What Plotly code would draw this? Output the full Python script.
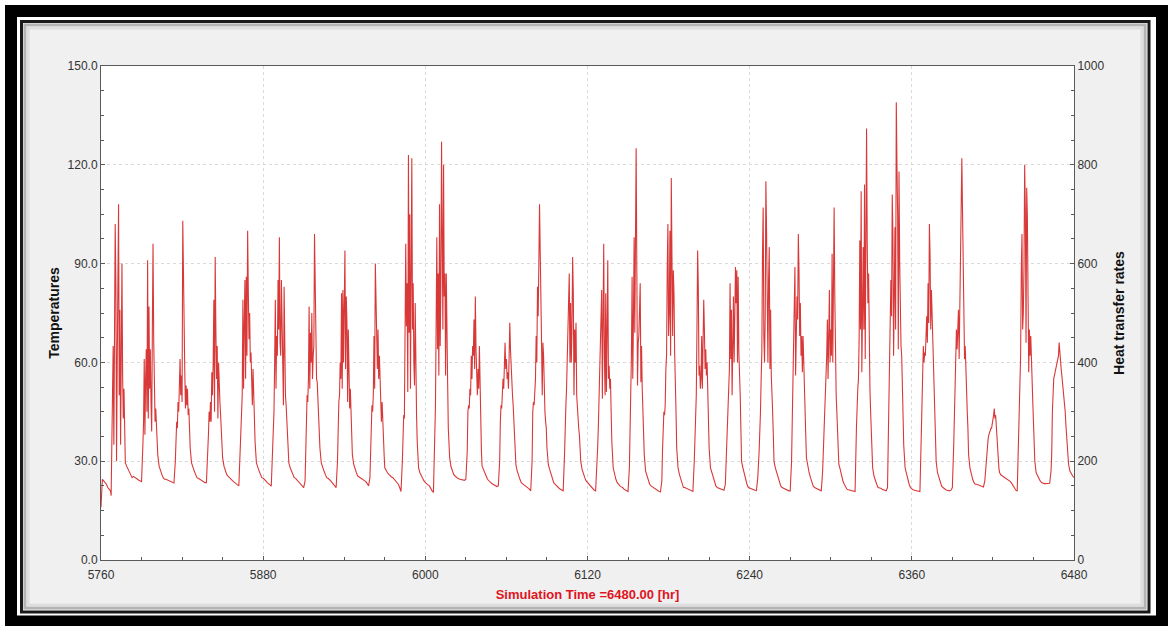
import plotly.graph_objects as go

# ---------------- data ----------------
START_HOUR = 5760
DAY_LENGTH = 24
# hour-of-day sample points shared by every day
HOURS = [0, 1, 2, 3, 4, 5, 6, 7,
         7.5, 8, 8.5, 9, 9.5, 10, 10.5, 11, 11.5, 12, 12.5, 13, 13.5, 14,
         14.5, 15, 15.5, 16, 16.5, 17, 17.5, 18,
         19, 20, 21, 22, 23]

# temperature readings per day (one list per simulated day)
DAY_VALUES = [
    [16, 24.5, 24, 23.5, 23, 22, 21.5, 21, 19.5, 38, 54, 65, 35, 70, 102, 84, 30, 60, 88, 108, 50, 76, 35, 60, 90, 56, 43, 52, 40, 29.5, 28.5, 27.5, 26.5, 25.5, 25],
    [25.4, 25, 24.8, 24.5, 24.2, 24, 23.8, 35, 42, 61, 38, 55, 64, 45, 91, 43, 77, 52, 64, 48, 39, 70, 96, 67, 54, 42, 46, 40, 38, 32, 28.5, 27, 26, 25, 24.5],
    [24.5, 24.3, 24, 23.8, 23.6, 23.5, 23.4, 30, 38, 42, 40, 48, 45, 55, 61, 50, 56, 48, 103, 88, 63, 57, 46, 53, 47, 52, 44, 46, 40, 34, 29.5, 28, 27, 26, 25],
    [24.8, 24.5, 24.3, 24, 23.8, 23.5, 23.5, 31, 38, 45, 42, 48, 42, 57, 50, 60, 79, 45, 92, 70, 55, 65, 43, 60, 50, 48, 44, 40, 35, 31, 28.5, 27, 26, 25.5, 25],
    [24.5, 24, 23.8, 23.5, 23, 22.8, 22.5, 35, 42, 45, 50, 79, 52, 72, 85, 55, 86, 62, 100, 82, 67, 75, 60, 63, 52, 47, 58, 48, 44, 36, 29.5, 28, 27, 26, 25],
    [24.8, 24.5, 24, 23.5, 23, 22.8, 22.4, 33, 42, 45, 60, 79, 52, 68, 62, 85, 70, 98, 66, 62, 85, 74, 55, 47, 83, 58, 50, 47, 42, 35, 29.5, 28, 27, 26, 25],
    [24.8, 24.3, 24, 23.5, 23, 22.5, 22, 24, 33, 45, 50, 48, 55, 77, 52, 69, 60, 75, 55, 62, 65, 99, 86, 62, 55, 54, 48, 46, 40, 34, 29.5, 28, 27, 26, 25],
    [24.8, 24.5, 24, 23.5, 23, 22.5, 22, 30, 42, 48, 50, 60, 55, 81, 52, 82, 60, 72, 94, 58, 80, 72, 48, 70, 60, 46, 52, 42, 36, 32, 29, 27.5, 26.5, 25.5, 25.2],
    [25, 24.8, 24.5, 24.2, 23.8, 23.2, 22.5, 25, 35, 46, 47, 45, 50, 68, 52, 90, 80, 70, 58, 70, 55, 62, 53, 52, 42, 48, 40, 36, 32, 28, 27, 26.5, 26, 25.5, 25.2],
    [25, 24.5, 24, 23.5, 23, 22, 20.8, 30, 43.5, 44, 43, 60, 96, 71, 84, 51, 123, 69, 105, 52, 104, 122, 70, 84, 60, 53, 78, 52, 44, 36, 28, 26.5, 25.5, 24.5, 24],
    [23.5, 23, 22.8, 22.5, 21.5, 21, 20.5, 35, 47, 72, 98, 64, 87, 56, 108, 65, 83, 127, 104, 70, 120, 80, 87, 56, 87, 58, 54, 40, 35, 31, 28.3, 27, 26, 25.5, 25],
    [24.8, 24.6, 24.5, 24.4, 24.3, 24.2, 24.5, 33, 45, 47, 46, 52, 50, 62, 55, 65, 62, 73, 58, 80, 64, 53, 50, 58, 52, 65, 50, 42, 33, 28.5, 27.3, 26.5, 25.5, 24.5, 24],
    [23.5, 23.3, 23, 22.8, 22.5, 22.3, 22.5, 30, 42, 47, 46, 50, 55, 52, 60, 66, 58, 61, 55, 57, 52, 62, 72, 64, 58, 53, 50, 47, 42, 38, 29, 27, 25.5, 24.5, 23.5],
    [23, 22.8, 22.5, 22.2, 22, 21.5, 21, 30, 45, 48, 47, 50, 55, 68, 60, 83, 74, 90, 108, 94, 70, 66, 50, 66, 62, 50, 45, 42, 40, 34, 29, 27.5, 26, 24.5, 23.5],
    [23, 22.5, 22, 21.8, 21.5, 21.2, 21, 32, 45, 47, 52, 62, 75, 80, 87, 60, 78, 60, 70, 92, 81, 50, 70, 60, 72, 50, 45, 42, 40, 38, 30, 27.5, 26, 25, 24],
    [23.5, 23, 22.5, 22, 21.5, 21.2, 21, 28, 34, 40, 48, 53, 62, 73, 82, 49, 85, 96, 62, 50, 81, 51, 70, 91, 55, 59, 52, 55, 45, 36, 28, 26, 24.5, 23.5, 22.8],
    [22.5, 22.2, 22, 21.5, 21.2, 21, 20.8, 28, 37, 50, 62, 86, 55, 73, 98, 69, 105, 125, 88, 53, 66, 68, 76, 84, 54, 65, 52, 46, 38, 32, 27, 25.5, 24, 23, 22.5],
    [22.2, 22, 21.5, 21.2, 21, 20.8, 20.7, 24, 33, 40, 45, 44, 47, 58, 62, 88, 102, 68, 75, 100, 62, 116, 98, 68, 88, 81, 63, 56, 45, 34, 28, 26, 24.5, 23, 22],
    [22, 21.8, 21.5, 21.3, 21, 20.9, 20.8, 30, 37, 45, 50, 70, 94, 83, 56, 59, 52, 55, 68, 52, 72, 79, 70, 58, 64, 56, 60, 48, 42, 34, 28, 26.5, 25, 23.5, 22.5],
    [22, 21.8, 21.6, 21.4, 21.3, 21.2, 23, 33, 40, 45, 52, 58, 84, 61, 76, 50, 65, 80, 60, 83, 89, 78, 88, 60, 86, 63, 58, 50, 40, 30, 28, 26, 24.5, 23, 22],
    [21.8, 21.6, 21.4, 21.3, 21.2, 21.1, 25, 33, 38, 45, 55, 63, 93, 107, 68, 60, 74, 115, 100, 68, 60, 85, 95, 58, 76, 56, 52, 45, 38, 30, 28, 26.5, 25, 23.5, 22.5],
    [22, 21.8, 21.5, 21.3, 21.1, 21, 21, 30, 42, 55, 68, 80, 89, 56, 68, 80, 73, 99, 88, 68, 78, 62, 68, 57, 68, 58, 52, 45, 38, 31, 28, 26.5, 25, 23.5, 22.5],
    [22, 21.8, 21.5, 21.3, 21.1, 21, 27, 37, 42, 48, 55, 62, 73, 55, 68, 82, 60, 70, 62, 93, 60, 94, 107, 80, 55, 50, 45, 40, 33, 29, 27.5, 25.5, 24, 23, 22],
    [21.5, 21.3, 21.2, 21.1, 21, 20.9, 20.8, 40, 50, 52, 55, 67, 97, 70, 112, 57, 75, 95, 70, 114, 61, 90, 131, 96, 78, 87, 62, 52, 45, 38, 28, 25.5, 24, 23, 22],
    [22, 21.8, 21.5, 21.3, 21.1, 21, 22, 45, 55, 70, 85, 74, 111, 99, 62, 80, 101, 70, 139, 120, 105, 64, 118, 91, 75, 65, 62, 50, 42, 35, 28, 26, 24.5, 23, 22],
    [21.5, 21.3, 21.2, 21.1, 21, 20.9, 20.8, 38, 46, 50, 65, 60, 63, 62, 72, 74, 66, 84, 72, 102, 92, 70, 82, 75, 70, 66, 55, 45, 38, 30, 26.5, 25, 23.5, 22.5, 22],
    [21.6, 21.4, 21.2, 21, 21, 21.2, 22, 35, 45, 50, 60, 70, 64, 72, 76, 61, 80, 88, 107, 122, 106, 88, 72, 61, 65, 55, 50, 45, 40, 32, 28, 26, 24.5, 23.5, 23],
    [23, 22.8, 22.6, 22.4, 22.3, 22.2, 24, 30, 34, 36, 37, 38, 39, 39.5, 40, 40, 41, 43, 44, 46, 43, 44, 41, 37, 33, 29, 27.5, 26.5, 26, 25.8, 25.5, 25.2, 25, 24.8, 24.5],
    [24.2, 23.8, 23.2, 22.5, 22, 21.2, 21, 40, 45, 50, 62, 88, 99, 70, 75, 89, 120, 106, 66, 113, 104, 80, 57, 70, 62, 68, 58, 55, 48, 42, 30, 26.5, 25.5, 24.5, 24],
    [23.5, 23.3, 23.2, 23.2, 23.3, 23.3, 23.3, 27, 32, 45, 53, 55, 56, 57, 57.5, 58, 60, 61, 62, 66, 62, 60, 58, 56, 54, 53, 51, 49, 45, 41, 33, 29, 27, 26, 25.5],
]
END_TIME = 6480
END_VALUE = 25

X_TICKS = [5760, 5880, 6000, 6120, 6240, 6360, 6480]
Y_TICKS = [0, 30, 60, 90, 120, 150]
Y2_TICKS = [0, 200, 400, 600, 800, 1000]

# ---------------- build series ----------------
times, temps = [], []
for d, vals in enumerate(DAY_VALUES):
    for h, v in zip(HOURS, vals):
        times.append(START_HOUR + d * DAY_LENGTH + h)
        temps.append(v)
times.append(END_TIME)
temps.append(END_VALUE)

W, H = 1169, 626
L, R, T, B = 101, 95, 66, 66
PW, PH = W - L - R, H - T - B


def px(x):
    return (x - L) / PW


def py(y):
    return (H - B - y) / PH


fig = go.Figure()
fig.add_trace(go.Scatter(x=times, y=temps, mode="lines",
                         line=dict(color="#d93838", width=1.1),
                         name="Temperature", showlegend=False,
                         hoverinfo="x+y"))
fig.add_trace(go.Scatter(x=[None], y=[None], yaxis="y2", mode="lines",
                         showlegend=False, hoverinfo="skip"))

FONT = "Liberation Sans, Arial, sans-serif"
tickfont = dict(family=FONT, size=12, color="#333333")
axis_common = dict(showline=True, linecolor="#5a5a5a", linewidth=1,
                   ticks="inside", ticklen=4, tickcolor="#5a5a5a",
                   tickfont=tickfont, zeroline=False)

shapes = [
    # grey panel
    dict(type="rect", xref="paper", yref="paper", layer="below",
         x0=px(23), x1=px(1147), y0=py(610), y1=py(23),
         fillcolor="#f0f0f0", line=dict(width=0)),
    # soft inner edge of the panel
    dict(type="rect", xref="paper", yref="paper", layer="below",
         x0=px(25), x1=px(1145), y0=py(608), y1=py(25),
         fillcolor="rgba(0,0,0,0)", line=dict(color="#b4b4b4", width=3)),
    dict(type="rect", xref="paper", yref="paper", layer="below",
         x0=px(28), x1=px(1142), y0=py(605), y1=py(28),
         fillcolor="rgba(0,0,0,0)", line=dict(color="#dedede", width=3)),
    # white plot area
    dict(type="rect", xref="paper", yref="paper", layer="below",
         x0=0, x1=1, y0=0, y1=1, fillcolor="white", line=dict(width=0)),
    # thin dark border
    dict(type="rect", xref="paper", yref="paper", layer="below",
         x0=px(21.5), x1=px(1149), y0=py(612), y1=py(21.5),
         fillcolor="rgba(0,0,0,0)", line=dict(color="#1a1a1a", width=3)),
    # thick black outer frame
    dict(type="rect", xref="paper", yref="paper", layer="below",
         x0=px(11), x1=px(1162), y0=py(621.5), y1=py(11),
         fillcolor="rgba(0,0,0,0)", line=dict(color="#000000", width=12)),
]

GRID = "#dadada"

fig.update_layout(
    width=W, height=H,
    margin=dict(l=L, r=R, t=T, b=B, autoexpand=False),
    paper_bgcolor="white", plot_bgcolor="white",
    font=dict(family=FONT, size=12, color="#222222"),
    showlegend=False,
    shapes=shapes,
    xaxis=dict(range=[5760, 6480], tickvals=X_TICKS,
               ticktext=[str(v) for v in X_TICKS],
               showgrid=True, gridcolor=GRID, griddash="dot", gridwidth=1,
               mirror=True, ticklabelstandoff=4,
               minor=dict(dtick=30, tick0=5760, ticks="inside", ticklen=3,
                          tickcolor="#5a5a5a", showgrid=False),
               title=dict(text="Simulation Time =6480.00 [hr]",
                          font=dict(family=FONT, size=13, color="#e0141e",
                                    weight="bold"),
                          standoff=8),
               **axis_common),
    yaxis=dict(range=[0, 150], tickvals=Y_TICKS,
               ticktext=[f"{v:.1f}" for v in Y_TICKS],
               showgrid=True, gridcolor=GRID, griddash="dot", gridwidth=1,
               minor=dict(dtick=7.5, tick0=0, ticks="inside", ticklen=3,
                          tickcolor="#5a5a5a", showgrid=False),
               title=dict(text="Temperatures",
                          font=dict(family=FONT, size=14, color="#111111",
                                    weight="bold"),
                          standoff=4),
               **axis_common),
    yaxis2=dict(range=[0, 1000], overlaying="y", side="right", anchor="x",
                tickvals=Y2_TICKS, ticktext=[str(v) for v in Y2_TICKS],
                showgrid=False,
                minor=dict(dtick=50, tick0=0, ticks="inside", ticklen=3,
                           tickcolor="#5a5a5a", showgrid=False),
                title=dict(text="Heat transfer rates",
                           font=dict(family=FONT, size=14, color="#111111",
                                     weight="bold"),
                           standoff=10),
                **axis_common),
)

fig.write_html("out.html")
